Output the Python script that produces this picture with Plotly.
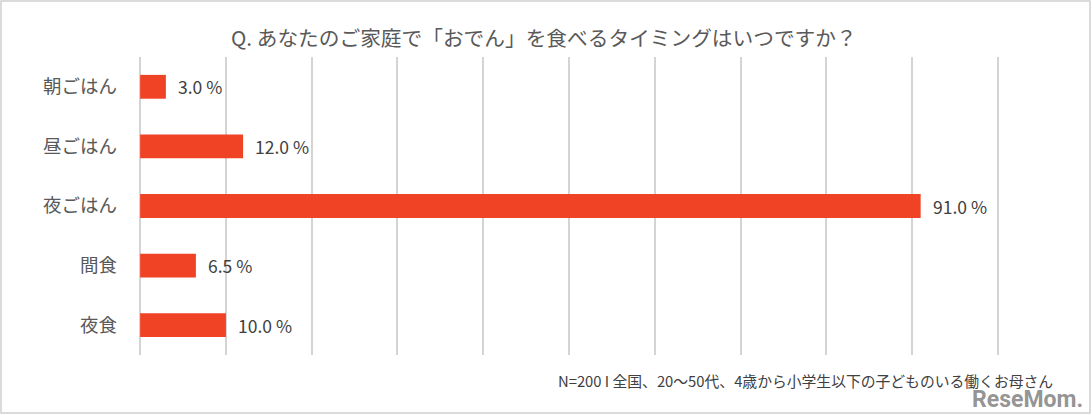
import plotly.graph_objects as go

categories = ["朝ごはん", "昼ごはん", "夜ごはん", "間食", "夜食"]
values = [3.0, 12.0, 91.0, 6.5, 10.0]
labels = [f"{v:.1f} %" for v in values]
grid_min, grid_max = 0, 100
pad = 0.25

title = "Q. あなたのご家庭で「おでん」を食べるタイミングはいつですか？"
note = "N=200 I 全国、20〜50代、4歳から小学生以下の子どものいる働くお母さん"

FONT = "Noto Sans CJK JP"

W, H = 1092, 415
ml, mr, mt, mb = 138, 92, 57, 60
pw, ph = W - ml - mr, H - mt - mb


def px(x):
    return (x - ml) / pw


def py(y):
    return (H - mb - y) / ph


fig = go.Figure()
fig.add_trace(go.Bar(
    y=categories, x=values, orientation="h",
    marker=dict(color="#F04325", line=dict(width=0)),
    hoverinfo="skip",
))

annotations = []
for c, v, t in zip(categories, values, labels):
    annotations.append(dict(
        x=v, y=c, xref="x", yref="y", text=t, showarrow=False,
        xanchor="left", xshift=10, font=dict(family=FONT, size=17.5, color="#404040"),
    ))
annotations.append(dict(
    x=px(544), y=py(37), xref="paper", yref="paper", text=title, showarrow=False,
    xanchor="center", yanchor="middle", font=dict(family=FONT, size=20.7, color="#595959"),
))
annotations.append(dict(
    x=px(1055), y=py(380), xref="paper", yref="paper", text=note, showarrow=False,
    xanchor="right", yanchor="middle", font=dict(family=FONT, size=14.8, color="#404040"),
))
annotations.append(dict(
    x=px(1085), y=py(399), xref="paper", yref="paper", text="<b>ReseMom.</b>",
    showarrow=False, xanchor="right", yanchor="middle",
    font=dict(family="Roboto", size=23, color="rgba(120,120,120,0.8)"),
))

fig.update_layout(
    width=W, height=H,
    margin=dict(l=ml, r=mr, t=mt, b=mb),
    paper_bgcolor="white", plot_bgcolor="white",
    showlegend=False, bargap=0.6,
    annotations=annotations,
    xaxis=dict(range=[grid_min - pad, grid_max + pad], dtick=10, tick0=0,
               showgrid=True, gridcolor="#d4d4d4",
               gridwidth=1.8, showticklabels=False, zeroline=False, showline=False,
               fixedrange=True),
    yaxis=dict(autorange="reversed", showgrid=False, showline=False, ticks="",
               ticklabelstandoff=20,
               tickfont=dict(family=FONT, size=18.5, color="#595959"), fixedrange=True),
    shapes=[
        dict(type="rect", xref="paper", yref="paper",
             x0=px(1), x1=px(W - 2), y0=py(H - 2), y1=py(1),
             line=dict(color="#d0d0d0", width=1.5), fillcolor="rgba(0,0,0,0)",
             layer="below"),
    ],
)

fig.write_html(
    "out.html",
    config={"displayModeBar": False},
    post_script="document.body.style.margin='0';document.body.style.overflow='hidden';",
)
